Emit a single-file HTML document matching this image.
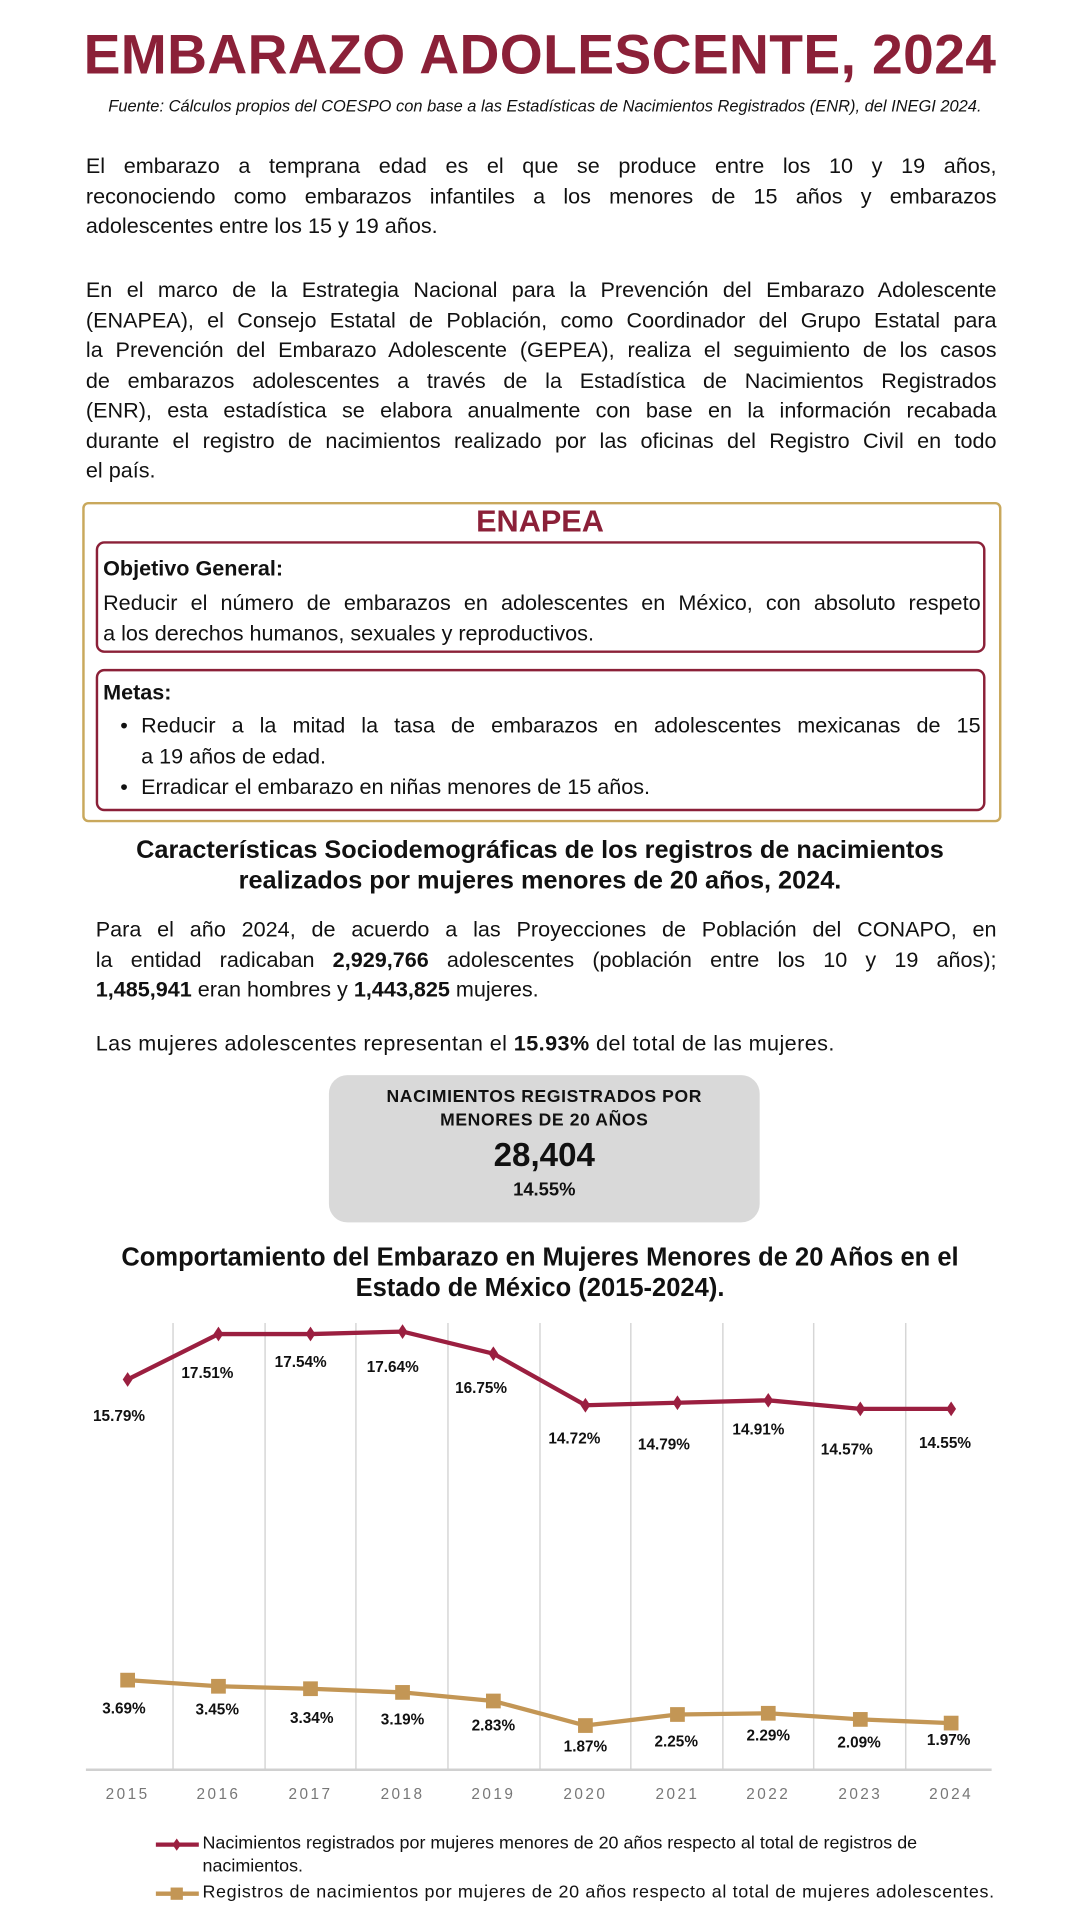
<!DOCTYPE html>
<html><head><meta charset="utf-8">
<style>
html,body{margin:0;padding:0;background:#fff;}
body{width:1080px;height:1920px;overflow:hidden;position:relative;}
#w{position:absolute;left:0;top:0;width:880px;height:1565px;transform:scale(1.22727);transform-origin:0 0;font-family:"Liberation Sans",sans-serif;color:#111;}
.a{position:absolute;}
.j{font-size:17.6px;line-height:24.5px;}
.j div{text-align:justify;text-align-last:justify;white-space:nowrap;}
.j div.l{text-align-last:left;}
b{font-weight:bold;}
</style></head><body><div id="w">
<div class="a" style="left:0;width:880px;top:17px;text-align:center;font-size:45px;letter-spacing:0.3px;font-weight:bold;color:#8b2038;line-height:56px;">EMBARAZO ADOLESCENTE, 2024</div>
<div class="a" style="left:0;width:888px;top:79px;text-align:center;font-size:13.4px;font-style:italic;line-height:16px;">Fuente: Cálculos propios del COESPO con base a las Estadísticas de Nacimientos Registrados (ENR), del INEGI 2024.</div>
<div class="a j" style="left:70px;width:742px;top:123px;">
<div>El embarazo a temprana edad es el que se produce entre los 10 y 19 años,</div>
<div>reconociendo como embarazos infantiles a los menores de 15 años y embarazos</div>
<div class="l">adolescentes entre los 15 y 19 años.</div></div>
<div class="a j" style="left:70px;width:742px;top:224px;">
<div>En el marco de la Estrategia Nacional para la Prevención del Embarazo Adolescente</div>
<div>(ENAPEA), el Consejo Estatal de Población, como Coordinador del Grupo Estatal para</div>
<div>la Prevención del Embarazo Adolescente (GEPEA), realiza el seguimiento de los casos</div>
<div>de embarazos adolescentes a través de la Estadística de Nacimientos Registrados</div>
<div>(ENR), esta estadística se elabora anualmente con base en la información recabada</div>
<div>durante el registro de nacimientos realizado por las oficinas del Registro Civil en todo</div>
<div class="l">el país.</div></div>

<div class="a" style="left:67px;top:409px;width:745px;height:257px;border:2px solid #c9a85c;border-radius:5px;"></div>
<div class="a" style="left:0;width:880px;top:409px;text-align:center;font-size:25px;font-weight:bold;color:#8b2038;line-height:32px;">ENAPEA</div>
<div class="a" style="left:78px;top:441px;width:721px;height:87px;border:2.5px solid #8b2038;border-radius:7px;"></div>
<div class="a" style="left:84px;top:451px;font-size:17.6px;font-weight:bold;line-height:24px;">Objetivo General:</div>
<div class="a j" style="left:84px;top:479px;width:715px;">
<div>Reducir el número de embarazos en adolescentes en México, con absoluto respeto</div>
<div class="l">a los derechos humanos, sexuales y reproductivos.</div></div>
<div class="a" style="left:78px;top:545px;width:721px;height:112px;border:2.5px solid #8b2038;border-radius:7px;"></div>
<div class="a" style="left:84px;top:552px;font-size:17.6px;font-weight:bold;line-height:24px;">Metas:</div>
<div class="a" style="left:98px;top:579px;font-size:17.6px;line-height:24.5px;">•</div>
<div class="a j" style="left:115px;top:579px;width:684px;">
<div>Reducir a la mitad la tasa de embarazos en adolescentes mexicanas de 15</div>
<div class="l">a 19 años de edad.</div></div>
<div class="a" style="left:98px;top:629px;font-size:17.6px;line-height:24.5px;">•</div>
<div class="a" style="left:115px;top:629px;font-size:17.6px;line-height:24.5px;">Erradicar el embarazo en niñas menores de 15 años.</div>

<div class="a" style="left:20px;width:840px;top:680px;text-align:center;font-size:20.6px;font-weight:bold;line-height:25px;">Características Sociodemográficas de los registros de nacimientos<br>realizados por mujeres menores de 20 años, 2024.</div>
<div class="a j" style="left:78px;width:734px;top:745px;">
<div>Para el año 2024, de acuerdo a las Proyecciones de Población del CONAPO, en</div>
<div>la entidad radicaban <b>2,929,766</b> adolescentes (población entre los 10 y 19 años);</div>
<div class="l"><b>1,485,941</b> eran hombres y <b>1,443,825</b> mujeres.</div></div>
<div class="a" style="left:78px;top:838px;font-size:17.6px;line-height:24.5px;letter-spacing:0.35px;">Las mujeres adolescentes representan el <b>15.93%</b> del total de las mujeres.</div>

<div class="a" style="left:268px;top:876px;width:351px;height:120px;background:#d9d9d9;border-radius:15px;text-align:center;">
<div style="margin-top:9px;font-size:14.3px;letter-spacing:0.5px;font-weight:bold;line-height:19px;">NACIMIENTOS REGISTRADOS POR<br>MENORES DE 20 AÑOS</div>
<div style="font-size:27px;font-weight:bold;line-height:34px;margin-top:1px;">28,404</div>
<div style="font-size:15px;font-weight:bold;line-height:20px;margin-top:2px;">14.55%</div>
</div>

<div class="a" style="left:20px;width:840px;top:1012px;text-align:center;font-size:20.8px;font-weight:bold;line-height:25px;">Comportamiento del Embarazo en Mujeres Menores de 20 Años en el<br>Estado de México (2015-2024).</div>

<svg class="a" style="left:0;top:0" width="880" height="1565" viewBox="0 0 880 1565" font-family="Liberation Sans, sans-serif">
<g stroke="#d6d6d6" stroke-width="1.2">
<line x1="141" y1="1078" x2="141" y2="1442"/><line x1="216" y1="1078" x2="216" y2="1442"/><line x1="290" y1="1078" x2="290" y2="1442"/><line x1="365" y1="1078" x2="365" y2="1442"/><line x1="440" y1="1078" x2="440" y2="1442"/><line x1="514" y1="1078" x2="514" y2="1442"/><line x1="589" y1="1078" x2="589" y2="1442"/><line x1="663" y1="1078" x2="663" y2="1442"/><line x1="738" y1="1078" x2="738" y2="1442"/>
</g>
<line x1="70" y1="1442" x2="808" y2="1442" stroke="#d0d0d0" stroke-width="2"/>
<polyline fill="none" stroke="#9b1f40" stroke-width="3.5" stroke-linejoin="round" points="104,1124 178,1087 253,1087 328,1085 402,1103 477,1145 552,1143 626,1141 701,1148 775,1148"/>
<g fill="#9b1f40">
<path d="M104,1118l4,6l-4,6l-4,-6z"/><path d="M178,1081l4,6l-4,6l-4,-6z"/><path d="M253,1081l4,6l-4,6l-4,-6z"/><path d="M328,1079l4,6l-4,6l-4,-6z"/><path d="M402,1097l4,6l-4,6l-4,-6z"/><path d="M477,1139l4,6l-4,6l-4,-6z"/><path d="M552,1137l4,6l-4,6l-4,-6z"/><path d="M626,1135l4,6l-4,6l-4,-6z"/><path d="M701,1142l4,6l-4,6l-4,-6z"/><path d="M775,1142l4,6l-4,6l-4,-6z"/>
</g>
<polyline fill="none" stroke="#c39655" stroke-width="3.5" stroke-linejoin="round" points="104,1369 178,1374 253,1376 328,1379 402,1386 477,1406 552,1397 626,1396 701,1401 775,1404"/>
<g fill="#c39655">
<rect x="98" y="1363" width="12" height="12"/><rect x="172" y="1368" width="12" height="12"/><rect x="247" y="1370" width="12" height="12"/><rect x="322" y="1373" width="12" height="12"/><rect x="396" y="1380" width="12" height="12"/><rect x="471" y="1400" width="12" height="12"/><rect x="546" y="1391" width="12" height="12"/><rect x="620" y="1390" width="12" height="12"/><rect x="695" y="1395" width="12" height="12"/><rect x="769" y="1398" width="12" height="12"/>
</g>
<g font-size="12.5" font-weight="bold" fill="#111" text-anchor="middle">
<text x="97" y="1158">15.79%</text><text x="169" y="1123">17.51%</text><text x="245" y="1114">17.54%</text><text x="320" y="1118">17.64%</text><text x="392" y="1135">16.75%</text><text x="468" y="1176">14.72%</text><text x="541" y="1181">14.79%</text><text x="618" y="1169">14.91%</text><text x="690" y="1185">14.57%</text><text x="770" y="1180">14.55%</text>
<text x="101" y="1396">3.69%</text><text x="177" y="1397">3.45%</text><text x="254" y="1404">3.34%</text><text x="328" y="1405">3.19%</text><text x="402" y="1410">2.83%</text><text x="477" y="1427">1.87%</text><text x="551" y="1423">2.25%</text><text x="626" y="1418">2.29%</text><text x="700" y="1424">2.09%</text><text x="773" y="1422">1.97%</text>
</g>
<g font-size="12.5" fill="#777" text-anchor="middle" letter-spacing="2">
<text x="104" y="1466">2015</text><text x="178" y="1466">2016</text><text x="253" y="1466">2017</text><text x="328" y="1466">2018</text><text x="402" y="1466">2019</text><text x="477" y="1466">2020</text><text x="552" y="1466">2021</text><text x="626" y="1466">2022</text><text x="701" y="1466">2023</text><text x="775" y="1466">2024</text>
</g>
<line x1="127" y1="1503" x2="162" y2="1503" stroke="#9b1f40" stroke-width="3.5"/>
<path d="M144,1498l3.5,5l-3.5,5l-3.5,-5z" fill="#9b1f40"/>
<line x1="127" y1="1543" x2="162" y2="1543" stroke="#c39655" stroke-width="3.5"/>
<rect x="139" y="1538" width="10" height="10" fill="#c39655"/>
<g font-size="14.6" fill="#111">
<text x="165" y="1506">Nacimientos registrados por mujeres menores de 20 años respecto al total de registros de</text>
<text x="165" y="1525">nacimientos.</text>
<text x="165" y="1546" textLength="645">Registros de nacimientos por mujeres de 20 años respecto al total de mujeres adolescentes.</text>
</g>
</svg>
</div></body></html>
